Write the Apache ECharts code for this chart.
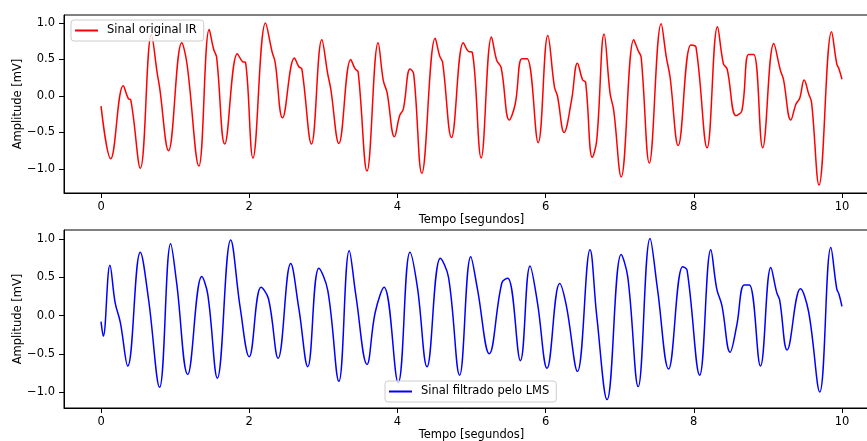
<!DOCTYPE html>
<html>
<head>
<meta charset="utf-8">
<script src="https://cdn.jsdelivr.net/npm/echarts@6/dist/echarts.min.js"></script>
<style>
  html, body { margin: 0; padding: 0; background: #fff; }
  #chart { width: 867px; height: 441px; }
</style>
</head>
<body>
<div id="chart"></div>
<script>
// sinal original IR (tempo em s, amplitude em mV)
var tIR = [0, 0.13, 0.30, 0.37, 0.40, 0.53, 0.68, 0.76, 0.79, 0.91, 1.09, 1.16, 1.32, 1.46, 1.52, 1.56,
  1.67, 1.84, 1.91, 1.95, 2.05, 2.22, 2.31, 2.35, 2.45, 2.61, 2.67, 2.71, 2.84, 2.98, 3.06, 3.10,
  3.21, 3.37, 3.43, 3.47, 3.59, 3.74, 3.81, 3.86, 3.96, 4.03, 4.08, 4.17, 4.22, 4.33, 4.51, 4.57,
  4.61, 4.73, 4.89, 4.96, 5.01, 5.13, 5.27, 5.34, 5.40, 5.51, 5.59, 5.68, 5.75, 5.90, 6.03, 6.12,
  6.16, 6.25, 6.35, 6.43, 6.50, 6.54, 6.63, 6.69, 6.79, 6.87, 6.92, 7.02, 7.19, 7.25, 7.29, 7.40,
  7.56, 7.63, 7.68, 7.79, 7.96, 8.03, 8.18, 8.32, 8.40, 8.45, 8.57, 8.65, 8.74, 8.81, 8.93, 9.08,
  9.17, 9.21, 9.31, 9.38, 9.43, 9.49, 9.55, 9.59, 9.69, 9.86, 9.93, 9.96, 10.0];
var vIR = [-0.14, -0.86, 0.14, -0.04, -0.05, -0.99, 0.84, 0.30, 0.12, -0.75, 0.73, 0.44, -0.96, 0.91, 0.64, 0.53,
  -0.66, 0.58, 0.47, 0.46, -0.85, 1.0, 0.60, 0.46, -0.30, 0.52, 0.40, 0.37, -0.66, 0.77, 0.30, 0.10,
  -0.65, 0.50, 0.37, 0.33, -1.03, 0.73, 0.21, 0.05, -0.56, -0.27, -0.18, 0.37, 0.30, -1.06, 0.79, 0.55,
  0.46, -0.57, 0.73, 0.61, 0.60, -0.85, 0.81, 0.49, 0.39, -0.33, -0.11, 0.51, 0.51, -0.64, 0.83, 0.12,
  0.0, -0.50, -0.06, 0.45, 0.22, 0.19, -0.84, -0.61, 0.85, 0.04, -0.20, -1.11, 0.77, 0.62, 0.53, -0.92,
  0.99, 0.53, 0.26, -0.68, 0.70, 0.67, -0.71, 0.95, 0.44, 0.37, -0.27, -0.20, 0.57, 0.57, -0.71, 0.72,
  0.35, 0.23, -0.33, -0.11, -0.03, 0.22, 0.03, -0.09, -1.22, 0.88, 0.44, 0.37, 0.23];

// sinal filtrado pelo LMS
var tLMS = [0, 0.03, 0.12, 0.19, 0.26, 0.36, 0.53, 0.64, 0.79, 0.94, 1.02, 1.17, 1.36, 1.44, 1.57, 1.75,
  1.88, 2.00, 2.16, 2.26, 2.39, 2.56, 2.67, 2.79, 2.94, 3.06, 3.21, 3.35, 3.44, 3.59, 3.70, 3.82,
  4.01, 4.17, 4.27, 4.40, 4.58, 4.69, 4.84, 4.99, 5.08, 5.24, 5.41, 5.49, 5.66, 5.79, 5.89, 6.02,
  6.19, 6.28, 6.43, 6.60, 6.69, 6.83, 7.02, 7.11, 7.25, 7.41, 7.51, 7.66, 7.85, 7.91, 8.08, 8.23,
  8.31, 8.38, 8.49, 8.58, 8.68, 8.75, 8.90, 9.04, 9.12, 9.16, 9.26, 9.44, 9.55, 9.70, 9.85, 9.93,
  9.96, 10.0];
var vLMS = [-0.08, -0.27, 0.66, 0.17, -0.09, -0.66, 0.83, 0.22, -0.94, 0.94, 0.43, -0.77, 0.51, 0.28, -0.82, 0.99,
  0.09, -0.54, 0.37, 0.22, -0.56, 0.68, 0.09, -0.67, 0.62, 0.33, -0.86, 0.85, 0.26, -0.64, 0.04, 0.37,
  -0.88, 0.83, 0.37, -0.67, 0.75, 0.50, -0.78, 0.77, 0.35, -0.50, 0.43, 0.49, -0.59, 0.65, 0.17, -0.69,
  0.42, 0.13, -0.73, 0.86, 0.0, -1.10, 0.80, 0.50, -0.93, 1.01, 0.35, -0.70, 0.64, 0.59, -0.78, 0.86,
  0.35, 0.13, -0.48, -0.13, 0.40, 0.40, -0.66, 0.63, 0.30, 0.20, -0.45, 0.35, 0.05, -1.00, 0.89, 0.35,
  0.28, 0.12];

var xTicks = [0, 2, 4, 6, 8, 10];
var yTicks = [-1.0, -0.5, 0.0, 0.5, 1.0];

function pairs(t, v) {
  return t.map(function (x, i) { return [x, v[i]]; });
}

var font = 'DejaVu Sans';
var fs = 11.5;
var chart = echarts.init(document.getElementById('chart'));

function xAxis(idx) {
  return {
    type: 'value', gridIndex: idx, min: -0.5, max: 10.5,
    name: 'Tempo [segundos]', nameLocation: 'middle', nameGap: 21, nameMoveOverlap: false,
    nameTextStyle: { color: '#000', fontFamily: font, fontSize: fs },
    axisLine: { onZero: false, lineStyle: { color: '#000', width: 1 } },
    axisTick: { show: true, length: 5, lineStyle: { color: '#000' }, customValues: xTicks },
    axisLabel: { color: '#000', fontFamily: font, fontSize: fs, margin: 8, customValues: xTicks,
      formatter: function (v) { return String(v); } },
    splitLine: { show: false }
  };
}

function yAxis(idx, mn, mx) {
  return {
    type: 'value', gridIndex: idx, min: mn, max: mx,
    name: 'Amplitude [mV]', nameLocation: 'middle', nameGap: 40, nameMoveOverlap: false,
    nameTextStyle: { color: '#000', fontFamily: font, fontSize: fs },
    axisLine: { show: true, onZero: false, lineStyle: { color: '#000', width: 1 } },
    axisTick: { show: true, length: 5, lineStyle: { color: '#000' }, customValues: yTicks },
    axisLabel: { color: '#000', fontFamily: font, fontSize: fs, margin: 9, customValues: yTicks,
      formatter: function (v) { return (v < 0 ? '\u2212' : '') + Math.abs(v).toFixed(1); } },
    splitLine: { show: false }
  };
}

var legendBase = {
  orient: 'horizontal', icon: 'rect', itemWidth: 23, itemHeight: 2, itemGap: 6,
  padding: [4, 7, 4, 4], borderColor: '#cccccc', borderWidth: 1, borderRadius: 3,
  backgroundColor: 'rgba(255,255,255,0.8)',
  textStyle: { color: '#000', fontFamily: font, fontSize: fs, padding: [0, 0, 0, 4], lineHeight: 13 }
};

function grid(top) {
  return {
    left: 64, width: 815, top: top, height: 178, containLabel: false, outerBoundsMode: 'none',
    show: true, borderColor: '#000', borderWidth: 1, backgroundColor: 'transparent'
  };
}

var option = {
  animation: false,
  grid: [grid(15), grid(230)],
  xAxis: [xAxis(0), xAxis(1)],
  yAxis: [yAxis(0, -1.33, 1.11), yAxis(1, -1.21, 1.12)],
  legend: [
    Object.assign({}, legendBase, { data: ['Sinal original IR'], left: 71, top: 20 }),
    Object.assign({}, legendBase, { data: ['Sinal filtrado pelo LMS'], left: 385, top: 381 })
  ],
  series: [
    {
      name: 'Sinal original IR', type: 'line', xAxisIndex: 0, yAxisIndex: 0,
      data: pairs(tIR, vIR), smooth: 0.4, showSymbol: false, symbol: 'none',
      lineStyle: { color: '#ff0000', width: 1.5 }, itemStyle: { color: '#ff0000' }
    },
    {
      name: 'Sinal filtrado pelo LMS', type: 'line', xAxisIndex: 1, yAxisIndex: 1,
      data: pairs(tLMS, vLMS), smooth: 0.4, showSymbol: false, symbol: 'none',
      lineStyle: { color: '#0000ff', width: 1.5 }, itemStyle: { color: '#0000ff' }
    }
  ]
};
chart.setOption(option);
</script>
</body>
</html>
